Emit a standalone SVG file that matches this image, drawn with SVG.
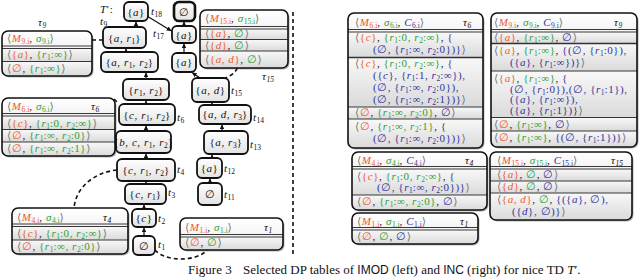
<svg xmlns="http://www.w3.org/2000/svg" width="640" height="280" viewBox="0 0 640 280">
<style>
text{font-family:"Liberation Serif","DejaVu Serif",serif;font-size:11px;letter-spacing:0.55px;fill:#111}
.i{font-style:italic}
.m{fill:#ee5a2a}
.s{fill:#2f9e35}
.c{fill:#33339a}
.g{fill:#777}
.b{font-size:7.5px;letter-spacing:0;baseline-shift:-2px}
.sf{font-family:"Liberation Sans","DejaVu Sans",sans-serif;font-size:12px}
.sh{fill:#b5b5b5}
.bd{fill:none;stroke:#111;stroke-width:1.6}
.ln{fill:none;stroke:#222;stroke-width:0.9}
.lt{fill:none;stroke:#333;stroke-width:1.4}
.hd{fill:url(#hg)}
.rw{fill:url(#rg)}
.nd{fill:url(#ng);stroke:#111;stroke-width:1.8}
.e{fill:none;stroke:#111;stroke-width:1.2;marker-end:url(#ah)}
.d{fill:none;stroke:#111;stroke-width:1.6;stroke-dasharray:4 3}
.cap{font-size:13px;letter-spacing:0}
</style>
<defs>
<linearGradient id="hg" x1="0" y1="0" x2="0" y2="1"><stop offset="0" stop-color="#ffffff"/><stop offset="1" stop-color="#f3f3f3"/></linearGradient>
<linearGradient id="rg" x1="0" y1="0" x2="0" y2="1"><stop offset="0" stop-color="#f8f8f8"/><stop offset="1" stop-color="#dadada"/></linearGradient>
<linearGradient id="ng" x1="0" y1="0" x2="0" y2="1"><stop offset="0" stop-color="#ffffff"/><stop offset="1" stop-color="#e2e2e2"/></linearGradient>
<marker id="ah" viewBox="0 0 6 6" refX="6" refY="3" markerWidth="4" markerHeight="4" orient="auto"><path d="M0,0 L6,3 L0,6 z" fill="#111"/></marker>
</defs>

<!-- LEFT TABLES -->
<g id="tab-l9">
<rect class="sh" x="3.5" y="32.5" width="90" height="45" rx="6"/>
<path class="hd" d="M2,48.5 V37 A6,6 0 0 1 8,31 H86 A6,6 0 0 1 92,37 V48.5 Z"/>
<rect class="rw" x="2" y="48.5" width="90" height="13"/>
<path class="rw" d="M2,61.5 H92 V70 A6,6 0 0 1 86,76 H8 A6,6 0 0 1 2,70 Z"/>
<path class="ln" d="M2,46 H92 M2,48.5 H92 M2,61.5 H92"/>
<rect class="bd" x="2" y="31" width="90" height="45" rx="6"/>
<text x="38" y="26" class="i">τ<tspan class="b">9</tspan></text>
<text x="7" y="42"><tspan class="g">⟨</tspan><tspan class="m"><tspan class="i">M</tspan><tspan class="b">9.i</tspan></tspan>, <tspan class="s"><tspan class="i">σ</tspan><tspan class="b">9.i</tspan></tspan><tspan class="g">⟩</tspan></text>
<text x="7" y="58"><tspan class="g">⟨</tspan><tspan class="m">{<tspan class="i">a</tspan>}</tspan>, <tspan class="s">{<tspan class="i">r</tspan><tspan class="b">1</tspan>:∞}</tspan><tspan class="g">⟩</tspan></text>
<text x="7" y="72"><tspan class="g">⟨</tspan><tspan class="m">∅</tspan>, <tspan class="s">{<tspan class="i">r</tspan><tspan class="b">1</tspan>:∞}</tspan><tspan class="g">⟩</tspan></text>
</g>

<g id="tab-l6">
<rect class="sh" x="3.5" y="99.5" width="113" height="58" rx="6"/>
<path class="hd" d="M2,116 V104 A6,6 0 0 1 8,98 H109 A6,6 0 0 1 115,104 V116 Z"/>
<rect class="rw" x="2" y="116" width="113" height="13.5"/>
<rect class="rw" x="2" y="129.5" width="113" height="12.5"/>
<path class="rw" d="M2,142 H115 V150 A6,6 0 0 1 109,156 H8 A6,6 0 0 1 2,150 Z"/>
<path class="ln" d="M2,113.5 H115 M2,116 H115 M2,129.5 H115 M2,142 H115"/>
<rect class="bd" x="2" y="98" width="113" height="58" rx="6"/>
<text x="91" y="110" class="i">τ<tspan class="b">6</tspan></text>
<text x="7" y="110"><tspan class="g">⟨</tspan><tspan class="m"><tspan class="i">M</tspan><tspan class="b">6.i</tspan></tspan>, <tspan class="s"><tspan class="i">σ</tspan><tspan class="b">6.i</tspan></tspan><tspan class="g">⟩</tspan></text>
<text x="7" y="126.5"><tspan class="g">⟨</tspan><tspan class="m">{<tspan class="i">c</tspan>}</tspan>, <tspan class="s">{<tspan class="i">r</tspan><tspan class="b">1</tspan>:0, <tspan class="i">r</tspan><tspan class="b">2</tspan>:∞}</tspan><tspan class="g">⟩</tspan></text>
<text x="7" y="139"><tspan class="g">⟨</tspan><tspan class="m">∅</tspan>, <tspan class="s">{<tspan class="i">r</tspan><tspan class="b">1</tspan>:∞, <tspan class="i">r</tspan><tspan class="b">2</tspan>:0}</tspan><tspan class="g">⟩</tspan></text>
<text x="7" y="152"><tspan class="g">⟨</tspan><tspan class="m">∅</tspan>, <tspan class="s">{<tspan class="i">r</tspan><tspan class="b">1</tspan>:∞, <tspan class="i">r</tspan><tspan class="b">2</tspan>:1}</tspan><tspan class="g">⟩</tspan></text>
</g>

<g id="tab-l4">
<rect class="sh" x="13.5" y="209.5" width="116" height="46" rx="6"/>
<path class="hd" d="M12,226.5 V214 A6,6 0 0 1 18,208 H122 A6,6 0 0 1 128,214 V226.5 Z"/>
<rect class="rw" x="12" y="226.5" width="116" height="13.5"/>
<path class="rw" d="M12,240 H128 V248 A6,6 0 0 1 122,254 H18 A6,6 0 0 1 12,248 Z"/>
<path class="ln" d="M12,224 H128 M12,226.5 H128 M12,240 H128"/>
<rect class="bd" x="12" y="208" width="116" height="46" rx="6"/>
<text x="103" y="220.5" class="i">τ<tspan class="b">4</tspan></text>
<text x="17" y="220.5"><tspan class="g">⟨</tspan><tspan class="m"><tspan class="i">M</tspan><tspan class="b">4.i</tspan></tspan>, <tspan class="s"><tspan class="i">σ</tspan><tspan class="b">4.i</tspan></tspan><tspan class="g">⟩</tspan></text>
<text x="17" y="236.5"><tspan class="g">⟨</tspan><tspan class="m">{<tspan class="i">c</tspan>}</tspan>, <tspan class="s">{<tspan class="i">r</tspan><tspan class="b">1</tspan>:0, <tspan class="i">r</tspan><tspan class="b">2</tspan>:∞}</tspan><tspan class="g">⟩</tspan></text>
<text x="17" y="250"><tspan class="g">⟨</tspan><tspan class="m">∅</tspan>, <tspan class="s">{<tspan class="i">r</tspan><tspan class="b">1</tspan>:∞, <tspan class="i">r</tspan><tspan class="b">2</tspan>:0}</tspan><tspan class="g">⟩</tspan></text>
</g>

<g id="tab-l1">
<rect class="sh" x="181.5" y="219.5" width="103" height="32" rx="6"/>
<path class="hd" d="M180,237 V224 A6,6 0 0 1 186,218 H277 A6,6 0 0 1 283,224 V237 Z"/>
<path class="rw" d="M180,237 H283 V244 A6,6 0 0 1 277,250 H186 A6,6 0 0 1 180,244 Z"/>
<path class="ln" d="M180,234.5 H283 M180,237 H283"/>
<rect class="bd" x="180" y="218" width="103" height="32" rx="6"/>
<text x="264" y="231" class="i">τ<tspan class="b">1</tspan></text>
<text x="185" y="231"><tspan class="g">⟨</tspan><tspan class="m"><tspan class="i">M</tspan><tspan class="b">1.i</tspan></tspan>, <tspan class="s"><tspan class="i">σ</tspan><tspan class="b">1.i</tspan></tspan><tspan class="g">⟩</tspan></text>
<text x="185" y="246"><tspan class="g">⟨</tspan><tspan class="m">∅</tspan>, <tspan class="s">∅</tspan><tspan class="g">⟩</tspan></text>
</g>

<g id="tab-l15">
<rect class="sh" x="201.5" y="11.5" width="88" height="58" rx="6"/>
<path class="hd" d="M200,29 V16 A6,6 0 0 1 206,10 H282 A6,6 0 0 1 288,16 V29 Z"/>
<rect class="rw" x="200" y="29" width="88" height="10.5"/>
<rect class="rw" x="200" y="39.5" width="88" height="11.5"/>
<path class="rw" d="M200,51 H288 V62 A6,6 0 0 1 282,68 H206 A6,6 0 0 1 200,62 Z"/>
<path class="ln" d="M200,26.5 H288 M200,29 H288 M200,39.5 H288 M200,51 H288"/>
<rect class="bd" x="200" y="10" width="88" height="58" rx="6"/>
<text x="262" y="80" class="i">τ<tspan class="b">15</tspan></text>
<text x="205" y="22"><tspan class="g">⟨</tspan><tspan class="m"><tspan class="i">M</tspan><tspan class="b">15.i</tspan></tspan>, <tspan class="s"><tspan class="i">σ</tspan><tspan class="b">15.i</tspan></tspan><tspan class="g">⟩</tspan></text>
<text x="205" y="37"><tspan class="g">⟨</tspan><tspan class="m">{<tspan class="i">a</tspan>}</tspan>, <tspan class="s">∅</tspan><tspan class="g">⟩</tspan></text>
<text x="205" y="48.5"><tspan class="g">⟨</tspan><tspan class="m">{<tspan class="i">d</tspan>}</tspan>, <tspan class="s">∅</tspan><tspan class="g">⟩</tspan></text>
<text x="205" y="63"><tspan class="g">⟨</tspan><tspan class="m">{<tspan class="i">a</tspan>, <tspan class="i">d</tspan>}</tspan>, <tspan class="s">∅</tspan><tspan class="g">⟩</tspan></text>
</g>

<!-- RIGHT TABLES -->
<g id="tab-r6">
<rect class="sh" x="349.5" y="14.5" width="135" height="135" rx="6"/>
<path class="hd" d="M348,32 V19 A6,6 0 0 1 354,13 H477 A6,6 0 0 1 483,19 V32 Z"/>
<rect class="rw" x="348" y="32" width="135" height="25.5"/>
<rect class="rw" x="348" y="57.5" width="135" height="49.5"/>
<rect class="rw" x="348" y="107" width="135" height="12"/>
<path class="rw" d="M348,119 H483 V142 A6,6 0 0 1 477,148 H354 A6,6 0 0 1 348,142 Z"/>
<path class="ln" d="M348,29.5 H483 M348,32 H483 M348,107 H483 M348,119 H483"/>
<path class="lt" d="M348,57.5 H483"/>
<rect class="bd" x="348" y="13" width="135" height="135" rx="6"/>
<text x="463" y="26" class="i">τ<tspan class="b">6</tspan></text>
<text x="355" y="26"><tspan class="g">⟨</tspan><tspan class="m"><tspan class="i">M</tspan><tspan class="b">6.i</tspan></tspan>, <tspan class="s"><tspan class="i">σ</tspan><tspan class="b">6.i</tspan></tspan>, <tspan class="c"><tspan class="i">C</tspan><tspan class="b">6.i</tspan></tspan><tspan class="g">⟩</tspan></text>
<text x="355" y="41"><tspan class="g">⟨</tspan><tspan class="m">{<tspan class="i">c</tspan>}</tspan>, <tspan class="s">{<tspan class="i">r</tspan><tspan class="b">1</tspan>:0, <tspan class="i">r</tspan><tspan class="b">2</tspan>:∞}</tspan>, <tspan class="c">{</tspan></text>
<text x="373" y="53"><tspan class="c">(∅, {<tspan class="i">r</tspan><tspan class="b">1</tspan>:∞, <tspan class="i">r</tspan><tspan class="b">2</tspan>:0})}</tspan><tspan class="g">⟩</tspan></text>
<text x="355" y="67"><tspan class="g">⟨</tspan><tspan class="m">{<tspan class="i">c</tspan>}</tspan>, <tspan class="s">{<tspan class="i">r</tspan><tspan class="b">1</tspan>:0, <tspan class="i">r</tspan><tspan class="b">2</tspan>:∞}</tspan>, <tspan class="c">{</tspan></text>
<text x="373" y="79"><tspan class="c">({<tspan class="i">c</tspan>}, {<tspan class="i">r</tspan><tspan class="b">1</tspan>:1, <tspan class="i">r</tspan><tspan class="b">2</tspan>:∞}),</tspan></text>
<text x="373" y="91"><tspan class="c">(∅, {<tspan class="i">r</tspan><tspan class="b">1</tspan>:∞, <tspan class="i">r</tspan><tspan class="b">2</tspan>:0}),</tspan></text>
<text x="373" y="103"><tspan class="c">(∅, {<tspan class="i">r</tspan><tspan class="b">1</tspan>:∞, <tspan class="i">r</tspan><tspan class="b">2</tspan>:1})}</tspan><tspan class="g">⟩</tspan></text>
<text x="355" y="115.5"><tspan class="g">⟨</tspan><tspan class="m">∅</tspan>, <tspan class="s">{<tspan class="i">r</tspan><tspan class="b">1</tspan>:∞, <tspan class="i">r</tspan><tspan class="b">2</tspan>:0}</tspan>, <tspan class="c">∅</tspan><tspan class="g">⟩</tspan></text>
<text x="355" y="130"><tspan class="g">⟨</tspan><tspan class="m">∅</tspan>, <tspan class="s">{<tspan class="i">r</tspan><tspan class="b">1</tspan>:∞, <tspan class="i">r</tspan><tspan class="b">2</tspan>:1}</tspan>, <tspan class="c">{</tspan></text>
<text x="373" y="142"><tspan class="c">(∅, {<tspan class="i">r</tspan><tspan class="b">1</tspan>:∞, <tspan class="i">r</tspan><tspan class="b">2</tspan>:0})}</tspan><tspan class="g">⟩</tspan></text>
</g>

<g id="tab-r9">
<rect class="sh" x="492.5" y="14.5" width="146" height="134" rx="6"/>
<path class="hd" d="M491,32 V19 A6,6 0 0 1 497,13 H631 A6,6 0 0 1 637,19 V32 Z"/>
<rect class="rw" x="491" y="32" width="146" height="11.5"/>
<rect class="rw" x="491" y="43.5" width="146" height="27.5"/>
<rect class="rw" x="491" y="71" width="146" height="46.5"/>
<rect class="rw" x="491" y="117.5" width="146" height="13.5"/>
<path class="rw" d="M491,131 H637 V141 A6,6 0 0 1 631,147 H497 A6,6 0 0 1 491,141 Z"/>
<path class="ln" d="M491,29.5 H637 M491,32 H637 M491,71 H637 M491,117.5 H637 M491,131 H637"/>
<path class="lt" d="M491,43.5 H637"/>
<rect class="bd" x="491" y="13" width="146" height="134" rx="6"/>
<text x="614" y="26" class="i">τ<tspan class="b">9</tspan></text>
<text x="494" y="26"><tspan class="g">⟨</tspan><tspan class="m"><tspan class="i">M</tspan><tspan class="b">9.i</tspan></tspan>, <tspan class="s"><tspan class="i">σ</tspan><tspan class="b">9.i</tspan></tspan>, <tspan class="c"><tspan class="i">C</tspan><tspan class="b">9.i</tspan></tspan><tspan class="g">⟩</tspan></text>
<text x="494" y="40.5"><tspan class="g">⟨</tspan><tspan class="m">{<tspan class="i">a</tspan>}</tspan>, <tspan class="s">{<tspan class="i">r</tspan><tspan class="b">1</tspan>:∞}</tspan>, <tspan class="c">∅</tspan><tspan class="g">⟩</tspan></text>
<text x="494" y="54"><tspan class="g">⟨</tspan><tspan class="m">{<tspan class="i">a</tspan>}</tspan>, <tspan class="s">{<tspan class="i">r</tspan><tspan class="b">1</tspan>:∞}</tspan>, <tspan class="c">{(∅, {<tspan class="i">r</tspan><tspan class="b">1</tspan>:0}),</tspan></text>
<text x="510" y="65.5"><tspan class="c">({<tspan class="i">a</tspan>}, {<tspan class="i">r</tspan><tspan class="b">1</tspan>:∞})}</tspan><tspan class="g">⟩</tspan></text>
<text x="494" y="82"><tspan class="g">⟨</tspan><tspan class="m">{<tspan class="i">a</tspan>}</tspan>, <tspan class="s">{<tspan class="i">r</tspan><tspan class="b">1</tspan>:∞}</tspan>, <tspan class="c">{</tspan></text>
<text x="510" y="92.5"><tspan class="c">(∅, {<tspan class="i">r</tspan><tspan class="b">1</tspan>:0}),(∅, {<tspan class="i">r</tspan><tspan class="b">1</tspan>:1}),</tspan></text>
<text x="510" y="103"><tspan class="c">({<tspan class="i">a</tspan>}, {<tspan class="i">r</tspan><tspan class="b">1</tspan>:∞}),</tspan></text>
<text x="510" y="113.5"><tspan class="c">({<tspan class="i">a</tspan>}, {<tspan class="i">r</tspan><tspan class="b">1</tspan>:1})}</tspan><tspan class="g">⟩</tspan></text>
<text x="494" y="127.5"><tspan class="g">⟨</tspan><tspan class="m">∅</tspan>, <tspan class="s">{<tspan class="i">r</tspan><tspan class="b">1</tspan>:∞}</tspan>, <tspan class="c">∅</tspan><tspan class="g">⟩</tspan></text>
<text x="494" y="141"><tspan class="g">⟨</tspan><tspan class="m">∅</tspan>, <tspan class="s">{<tspan class="i">r</tspan><tspan class="b">1</tspan>:∞}</tspan>, <tspan class="c">{(∅, {<tspan class="i">r</tspan><tspan class="b">1</tspan>:1})}</tspan><tspan class="g">⟩</tspan></text>
</g>

<g id="tab-r4">
<rect class="sh" x="353.5" y="153.5" width="135" height="58" rx="6"/>
<path class="hd" d="M352,169 V158 A6,6 0 0 1 358,152 H481 A6,6 0 0 1 487,158 V169 Z"/>
<rect class="rw" x="352" y="169" width="135" height="26"/>
<path class="rw" d="M352,195 H487 V204 A6,6 0 0 1 481,210 H358 A6,6 0 0 1 352,204 Z"/>
<path class="ln" d="M352,166.5 H487 M352,169 H487 M352,195 H487"/>
<rect class="bd" x="352" y="152" width="135" height="58" rx="6"/>
<text x="465" y="163.5" class="i">τ<tspan class="b">4</tspan></text>
<text x="357" y="163.5"><tspan class="g">⟨</tspan><tspan class="m"><tspan class="i">M</tspan><tspan class="b">4.i</tspan></tspan>, <tspan class="s"><tspan class="i">σ</tspan><tspan class="b">4.i</tspan></tspan>, <tspan class="c"><tspan class="i">C</tspan><tspan class="b">4.i</tspan></tspan><tspan class="g">⟩</tspan></text>
<text x="357" y="179.5"><tspan class="g">⟨</tspan><tspan class="m">{<tspan class="i">c</tspan>}</tspan>, <tspan class="s">{<tspan class="i">r</tspan><tspan class="b">1</tspan>:0, <tspan class="i">r</tspan><tspan class="b">2</tspan>:∞}</tspan>, <tspan class="c">{</tspan></text>
<text x="377" y="191"><tspan class="c">(∅, {<tspan class="i">r</tspan><tspan class="b">1</tspan>:∞, <tspan class="i">r</tspan><tspan class="b">2</tspan>:0})}</tspan><tspan class="g">⟩</tspan></text>
<text x="357" y="205"><tspan class="g">⟨</tspan><tspan class="m">∅</tspan>, <tspan class="s">{<tspan class="i">r</tspan><tspan class="b">1</tspan>:∞, <tspan class="i">r</tspan><tspan class="b">2</tspan>:0}</tspan>, <tspan class="c">∅</tspan><tspan class="g">⟩</tspan></text>
</g>

<g id="tab-r1">
<rect class="sh" x="353.5" y="214.5" width="126" height="31" rx="6"/>
<path class="hd" d="M352,230 V219 A6,6 0 0 1 358,213 H472 A6,6 0 0 1 478,219 V230 Z"/>
<path class="rw" d="M352,230 H478 V238 A6,6 0 0 1 472,244 H358 A6,6 0 0 1 352,238 Z"/>
<path class="ln" d="M352,227.5 H478 M352,230 H478"/>
<rect class="bd" x="352" y="213" width="126" height="31" rx="6"/>
<text x="460" y="224.5" class="i">τ<tspan class="b">1</tspan></text>
<text x="357" y="224.5"><tspan class="g">⟨</tspan><tspan class="m"><tspan class="i">M</tspan><tspan class="b">1.i</tspan></tspan>, <tspan class="s"><tspan class="i">σ</tspan><tspan class="b">1.i</tspan></tspan>, <tspan class="c"><tspan class="i">C</tspan><tspan class="b">1.i</tspan></tspan><tspan class="g">⟩</tspan></text>
<text x="357" y="240"><tspan class="g">⟨</tspan><tspan class="m">∅</tspan>, <tspan class="s">∅</tspan>, <tspan class="c">∅</tspan><tspan class="g">⟩</tspan></text>
</g>

<g id="tab-r15">
<rect class="sh" x="491.5" y="153.5" width="142" height="68" rx="6"/>
<path class="hd" d="M490,169 V158 A6,6 0 0 1 496,152 H626 A6,6 0 0 1 632,158 V169 Z"/>
<rect class="rw" x="490" y="169" width="142" height="12"/>
<rect class="rw" x="490" y="181" width="142" height="12"/>
<path class="rw" d="M490,193 H632 V214 A6,6 0 0 1 626,220 H496 A6,6 0 0 1 490,214 Z"/>
<path class="ln" d="M490,166.5 H632 M490,169 H632 M490,181 H632 M490,193 H632"/>
<rect class="bd" x="490" y="152" width="142" height="68" rx="6"/>
<text x="611" y="163.5" class="i">τ<tspan class="b">15</tspan></text>
<text x="497" y="163.5"><tspan class="g">⟨</tspan><tspan class="m"><tspan class="i">M</tspan><tspan class="b">15.i</tspan></tspan>, <tspan class="s"><tspan class="i">σ</tspan><tspan class="b">15.i</tspan></tspan>, <tspan class="c"><tspan class="i">C</tspan><tspan class="b">15.i</tspan></tspan><tspan class="g">⟩</tspan></text>
<text x="497" y="178"><tspan class="g">⟨</tspan><tspan class="m">{<tspan class="i">a</tspan>}</tspan>, <tspan class="s">∅</tspan>, <tspan class="c">∅</tspan><tspan class="g">⟩</tspan></text>
<text x="497" y="190"><tspan class="g">⟨</tspan><tspan class="m">{<tspan class="i">d</tspan>}</tspan>, <tspan class="s">∅</tspan>, <tspan class="c">∅</tspan><tspan class="g">⟩</tspan></text>
<text x="497" y="203"><tspan class="g">⟨</tspan><tspan class="m">{<tspan class="i">a</tspan>, <tspan class="i">d</tspan>}</tspan>, <tspan class="s">∅</tspan>, <tspan class="c">{({<tspan class="i">a</tspan>}, ∅),</tspan></text>
<text x="512" y="215"><tspan class="c">({<tspan class="i">d</tspan>}, ∅)}</tspan><tspan class="g">⟩</tspan></text>
</g>

<!-- CONNECTORS -->
<g id="connectors">
<path class="e" d="M136,27 V21.5"/>
<path class="e" d="M126,52 V48.5"/>
<path class="e" d="M146,79 V72.5"/>
<path class="e" d="M146,104 V100.5"/>
<path class="e" d="M146,131 V125.5"/>
<path class="e" d="M146,159 V153.5"/>
<path class="e" d="M146,184 V181.5"/>
<path class="e" d="M144,209 V204.5"/>
<path class="e" d="M144,236 V227.5"/>
<path class="e" d="M210,183 V178.5"/>
<path class="e" d="M212,158 V154.5"/>
<path class="e" d="M222,131 V124.5"/>
<path class="e" d="M212,105 V102.5"/>
<path class="e" d="M200,78 L192,72.5"/>
<path class="e" d="M184,53 V43.5"/>
<path class="e" d="M184,26 V21.5"/>
<path class="e" d="M147,16 L171.5,31"/>
<path class="d" d="M92,40 H103"/>
<path class="d" d="M114,99 L119,104"/>
<path class="d" d="M237,68 C236,73 230,76 225,78"/>
<path class="d" d="M117,170 C96,172 76,186 74,208"/>
<path class="d" d="M155,250 C165,262 197,262 207,250"/>
<path class="d" d="M293,12 V256"/>
</g>

<!-- TREE NODES -->
<text x="100" y="13" class="i">T<tspan style="font-style:normal">′:</tspan></text>
<g id="t10"><rect class="nd" x="124" y="2" width="24" height="19" rx="5"/><text x="136" y="15.5" text-anchor="middle">{<tspan class="i">a</tspan>}</text></g>
<text x="151" y="15"><tspan class="i">t</tspan><tspan class="b">18</tspan></text>
<g id="t18"><rect class="nd" x="174" y="2" width="21" height="19" rx="5" style="stroke-width:2.6"/><text x="184.5" y="15.5" text-anchor="middle">∅</text></g>
<text x="100" y="25"><tspan class="i">t</tspan><tspan class="b">9</tspan></text>
<g id="t9"><rect class="nd" x="103" y="27" width="43" height="21" rx="5"/><text x="124.5" y="41.5" text-anchor="middle">{<tspan class="i">a</tspan>, <tspan class="i">r</tspan><tspan class="b">1</tspan>}</text></g>
<text x="153" y="37"><tspan class="i">t</tspan><tspan class="b">17</tspan></text>
<g id="t17"><rect class="nd" x="172" y="26" width="24" height="17" rx="5"/><text x="184" y="38.5" text-anchor="middle">{<tspan class="i">a</tspan>}</text></g>
<g id="t16"><rect class="nd" x="172" y="53" width="24" height="19" rx="5"/><text x="184" y="66" text-anchor="middle">{<tspan class="i">a</tspan>}</text></g>
<g id="t8"><rect class="nd" x="101" y="52" width="57" height="20" rx="5"/><text x="129.5" y="66" text-anchor="middle">{<tspan class="i">a</tspan>, <tspan class="i">r</tspan><tspan class="b">1</tspan>, <tspan class="i">r</tspan><tspan class="b">2</tspan>}</text></g>
<g id="t7"><rect class="nd" x="123" y="79" width="46" height="21" rx="5"/><text x="146" y="93.5" text-anchor="middle">{<tspan class="i">r</tspan><tspan class="b">1</tspan>, <tspan class="i">r</tspan><tspan class="b">2</tspan>}</text></g>
<g id="t15"><rect class="nd" x="192" y="78" width="37" height="24" rx="5"/><text x="210.5" y="93.5" text-anchor="middle">{<tspan class="i">a</tspan>, <tspan class="i">d</tspan>}</text></g>
<text x="231" y="94"><tspan class="i">t</tspan><tspan class="b">15</tspan></text>
<g id="t6"><rect class="nd" x="119" y="104" width="56" height="21" rx="5"/><text x="147" y="118.5" text-anchor="middle">{<tspan class="i">c</tspan>, <tspan class="i">r</tspan><tspan class="b">1</tspan>, <tspan class="i">r</tspan><tspan class="b">2</tspan>}</text></g>
<text x="177" y="121"><tspan class="i">t</tspan><tspan class="b">6</tspan></text>
<g id="t14"><rect class="nd" x="199" y="105" width="52" height="19" rx="5"/><text x="225" y="118" text-anchor="middle">{<tspan class="i">a</tspan>, <tspan class="i">d</tspan>, <tspan class="i">r</tspan><tspan class="b">3</tspan>}</text></g>
<text x="253" y="121"><tspan class="i">t</tspan><tspan class="b">14</tspan></text>
<g id="t5"><rect class="nd" x="116" y="131" width="55" height="22" rx="5"/><text x="143.5" y="146" text-anchor="middle">{<tspan class="i">b</tspan>, <tspan class="i">c</tspan>, <tspan class="i">r</tspan><tspan class="b">1</tspan>, <tspan class="i">r</tspan><tspan class="b">2</tspan>}</text></g>
<g id="t13"><rect class="nd" x="204" y="131" width="44" height="23" rx="5"/><text x="226" y="146" text-anchor="middle">{<tspan class="i">a</tspan>, <tspan class="i">r</tspan><tspan class="b">3</tspan>}</text></g>
<text x="250" y="148"><tspan class="i">t</tspan><tspan class="b">13</tspan></text>
<g id="t4"><rect class="nd" x="117" y="159" width="58" height="22" rx="5"/><text x="146" y="174" text-anchor="middle">{<tspan class="i">c</tspan>, <tspan class="i">r</tspan><tspan class="b">1</tspan>, <tspan class="i">r</tspan><tspan class="b">2</tspan>}</text></g>
<text x="177" y="173"><tspan class="i">t</tspan><tspan class="b">4</tspan></text>
<g id="t12"><rect class="nd" x="197" y="158" width="25" height="20" rx="5"/><text x="209.5" y="172" text-anchor="middle">{<tspan class="i">a</tspan>}</text></g>
<text x="224" y="172"><tspan class="i">t</tspan><tspan class="b">12</tspan></text>
<g id="t3"><rect class="nd" x="125" y="184" width="41" height="20" rx="5"/><text x="145.5" y="198" text-anchor="middle">{<tspan class="i">c</tspan>, <tspan class="i">r</tspan><tspan class="b">1</tspan>}</text></g>
<text x="168" y="196"><tspan class="i">t</tspan><tspan class="b">3</tspan></text>
<g id="t11"><rect class="nd" x="198" y="183" width="24" height="22" rx="5"/><text x="210" y="198" text-anchor="middle">∅</text></g>
<text x="224" y="198"><tspan class="i">t</tspan><tspan class="b">11</tspan></text>
<g id="t2"><rect class="nd" x="132" y="209" width="24" height="18" rx="5"/><text x="144" y="222" text-anchor="middle">{<tspan class="i">c</tspan>}</text></g>
<text x="158" y="222"><tspan class="i">t</tspan><tspan class="b">2</tspan></text>
<g id="t1"><rect class="nd" x="133" y="236" width="22" height="19" rx="5"/><text x="144" y="249.5" text-anchor="middle">∅</text></g>
<text x="158" y="248"><tspan class="i">t</tspan><tspan class="b">1</tspan></text>

<!-- CAPTION -->
<text x="188" y="274" class="cap">Figure 3<tspan x="243">Selected DP tables of </tspan><tspan class="sf">IMOD</tspan> (left) and <tspan class="sf">INC</tspan> (right) for nice TD <tspan class="i">T</tspan>′.</text>
</svg>
